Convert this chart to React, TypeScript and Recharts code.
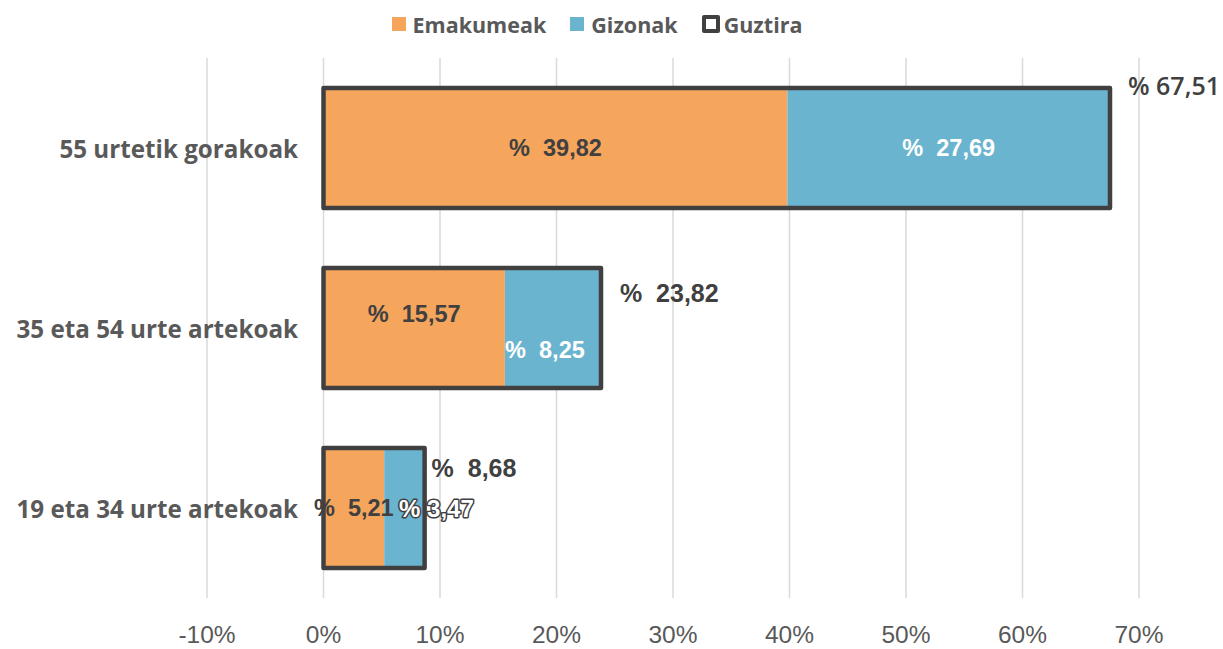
import { ComposedChart, Bar, XAxis, YAxis, CartesianGrid, Legend, LabelList } from 'recharts';

const categories = ['55 urtetik gorakoak', '35 eta 54 urte artekoak', '19 eta 34 urte artekoak'];
const emakumeak = [39.82, 15.57, 5.21];
const gizonak = [27.69, 8.25, 3.47];
const guztira = [67.51, 23.82, 8.68];
const xTicks = [-10, 0, 10, 20, 30, 40, 50, 60, 70];

const series = [
  { key: 'emakumeak', name: 'Emakumeak', color: '#F6A55D' },
  { key: 'gizonak', name: 'Gizonak', color: '#6BB4CF' },
  { key: 'guztira', name: 'Guztira', color: '#404040' },
];

const data = categories.map((c, i) => ({
  cat: c,
  emakumeak: emakumeak[i],
  gizonak: gizonak[i],
  guztira: guztira[i],
}));

const fmt = (v: number) => v.toFixed(2).replace('.', ',');

const DARK = '#404040';
const GRAY = '#595959';
const ARIAL = '"Liberation Sans", Arial, sans-serif';
const OPEN = '"Open Sans", sans-serif';

// hand nudges, the original labels were dragged around in Excel
const emaDy = [0, -14, 0];
const gizDx = [0, -8, 32];
const gizDy = [0, 22, 0];
const totDx = [18, 19, 7];
const totDy = [-63, -35, -40];

function EmaLabel(props: any) {
  const { x, y, width, height, value, index } = props;
  return (
    <text
      x={x + width / 2}
      y={y + height / 2 + emaDy[index]}
      textAnchor="middle"
      dominantBaseline="central"
      fontFamily={ARIAL}
      fontWeight="bold"
      fontSize={23.5}
      fill={DARK}
      style={{ whiteSpace: 'pre' }}
    >
      {`%  ${fmt(value)}`}
    </text>
  );
}

function GizLabel(props: any) {
  const { x, y, width, height, value, index } = props;
  const outlined = index === 2;
  return (
    <text
      x={x + width / 2 + gizDx[index]}
      y={y + height / 2 + gizDy[index]}
      textAnchor="middle"
      dominantBaseline="central"
      fontFamily={ARIAL}
      fontWeight="bold"
      fontSize={outlined ? 24 : 23.5}
      fill="#ffffff"
      stroke={outlined ? DARK : 'none'}
      strokeWidth={outlined ? 3 : 0}
      strokeLinejoin="round"
      paintOrder="stroke"
      style={{ whiteSpace: 'pre' }}
    >
      {outlined ? `% ${fmt(value)}` : `%  ${fmt(value)}`}
    </text>
  );
}

function TotLabel(props: any) {
  const { x, y, width, height, value, index } = props;
  const first = index === 0;
  return (
    <text
      x={x + width + totDx[index]}
      y={y + height / 2 + totDy[index]}
      textAnchor="start"
      dominantBaseline="central"
      fontFamily={first ? OPEN : ARIAL}
      fontWeight={first ? 600 : 'bold'}
      fontSize={25}
      fill={DARK}
      style={{ whiteSpace: 'pre' }}
    >
      {first ? `% ${fmt(value)}` : `%  ${fmt(value)}`}
    </text>
  );
}

function CatTick(props: any) {
  const { x, y, payload } = props;
  return (
    <text
      x={x + 91}
      y={y}
      textAnchor="end"
      dominantBaseline="central"
      fontFamily={OPEN}
      fontWeight={700}
      fontSize={24.2}
      fill={GRAY}
    >
      {payload.value}
    </text>
  );
}

function LegendBox() {
  return (
    <div
      style={{
        height: 36,
        display: 'flex',
        justifyContent: 'center',
        alignItems: 'center',
        paddingRight: 29,
        fontFamily: OPEN,
        fontWeight: 700,
        fontSize: 21.5,
        color: GRAY,
      }}
    >
      {series.map((s, i) => (
        <div key={s.key} style={{ display: 'flex', alignItems: 'center', marginLeft: i === 0 ? 0 : 24 }}>
          {s.key === 'guztira' ? (
            <span
              style={{
                display: 'inline-block',
                width: 10,
                height: 10,
                border: `4px solid ${s.color}`,
                borderRadius: 2,
                background: '#fff',
                marginRight: 4,
              }}
            />
          ) : (
            <span style={{ display: 'inline-block', width: 14, height: 14, background: s.color, marginRight: 7 }} />
          )}
          <span>{s.name}</span>
        </div>
      ))}
    </div>
  );
}

export default function App() {
  return (
    <div style={{ position: 'absolute', left: 0, top: 0, background: '#fff' }}>
      <ComposedChart
        width={1223}
        height={649}
        data={data}
        layout="vertical"
        margin={{ top: 22, right: 84, bottom: 0, left: 0 }}
      >
        <Legend
          verticalAlign="top"
          align="center"
          content={<LegendBox />}
          wrapperStyle={{ top: 6, left: 0, width: 1223 }}
        />
        <CartesianGrid horizontal={false} stroke="#d9d9d9" strokeWidth={1.5} />
        <XAxis
          type="number"
          domain={[-10, 70]}
          ticks={xTicks}
          tickFormatter={(v) => `${v}%`}
          axisLine={false}
          tickLine={false}
          tickSize={0}
          tickMargin={28}
          height={51}
          tick={{ fontSize: 24.5, fill: GRAY, fontFamily: ARIAL }}
          interval={0}
        />
        <YAxis
          yAxisId="main"
          type="category"
          dataKey="cat"
          width={207}
          axisLine={false}
          tickLine={false}
          tickSize={0}
          tickMargin={0}
          tick={<CatTick />}
        />
        <YAxis yAxisId="total" type="category" dataKey="cat" hide />
        <Bar yAxisId="main" dataKey="emakumeak" name="Emakumeak" stackId="a" fill={series[0].color} barSize={120} isAnimationActive={false}>
          <LabelList dataKey="emakumeak" content={<EmaLabel />} />
        </Bar>
        <Bar yAxisId="main" dataKey="gizonak" name="Gizonak" stackId="a" fill={series[1].color} barSize={120} isAnimationActive={false}>
          <LabelList dataKey="gizonak" content={<GizLabel />} />
        </Bar>
        <Bar
          yAxisId="total"
          dataKey="guztira"
          name="Guztira"
          fill="none"
          stroke={DARK}
          strokeWidth={4.5}
          strokeLinejoin="round"
          barSize={120}
          isAnimationActive={false}
        >
          <LabelList dataKey="guztira" content={<TotLabel />} />
        </Bar>
      </ComposedChart>
    </div>
  );
}
